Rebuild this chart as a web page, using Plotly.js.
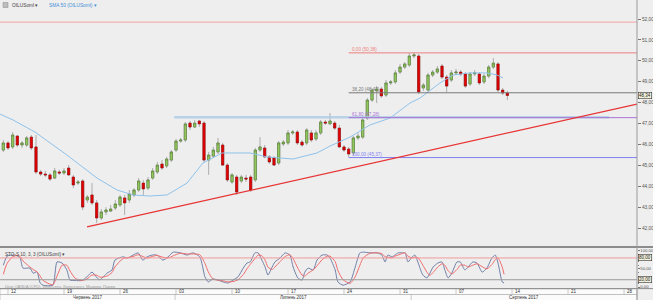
<!DOCTYPE html>
<html><head><meta charset="utf-8">
<script src="https://cdn.plot.ly/plotly-3.0.1.min.js"></script>
<style>html,body{margin:0;padding:0;background:#efefef;}#chart{width:653px;height:300px;}</style>
</head><body><div id="chart"></div>
<script>
// ---------------- DATA ----------------
const openP = [45.73,46.07,45.88,46.40,45.97,45.97,46.35,45.88,44.68,44.58,
44.54,44.39,44.68,44.63,44.87,44.44,44.15,44.25,43.34,43.58,
43.20,42.48,42.77,42.81,42.96,43.10,43.44,43.34,43.58,43.82,
44.15,43.91,44.39,44.68,45.06,44.97,45.25,45.73,46.16,46.21,
47.02,46.83,47.12,47.02,45.25,45.44,45.64,45.97,45.01,44.20,
44.44,44.25,44.39,44.44,44.30,45.73,45.83,45.40,45.35,45.11,
46.02,46.07,46.55,46.59,46.11,46.07,46.55,46.26,46.55,47.07,
46.98,47.02,46.78,45.88,45.78,45.59,46.31,46.35,47.26,48.12,
48.56,48.65,48.36,48.94,48.99,49.46,49.70,49.80,50.23,50.23,
48.70,48.60,49.32,49.46,49.75,49.22,49.08,49.42,49.46,49.37,
48.89,49.37,49.37,48.99,49.27,49.70,49.85,48.60,48.46];
const closeP = [46.07,45.83,46.45,45.97,46.07,46.31,45.83,44.68,44.58,44.54,
44.34,44.73,44.63,44.73,44.54,44.06,44.20,43.00,43.48,43.20,
42.48,42.77,42.86,42.91,43.15,43.48,43.20,43.63,43.82,44.25,
43.87,44.30,44.73,45.01,44.87,45.30,45.64,46.16,46.21,46.98,
46.83,47.02,46.98,45.25,45.49,45.73,46.07,45.01,44.30,44.54,
43.72,44.44,44.34,43.82,45.73,45.88,45.40,45.16,45.01,46.07,
46.11,46.55,46.59,46.07,45.97,46.69,46.21,46.55,47.07,47.02,
47.12,46.78,45.88,45.73,45.54,46.31,46.40,47.17,48.12,48.60,
48.65,48.32,48.94,48.99,49.42,49.70,49.85,50.23,50.28,48.51,
48.84,49.32,49.46,49.61,49.22,48.79,49.42,49.46,49.37,48.79,
49.37,49.42,48.94,49.27,49.70,49.89,48.60,48.46,48.34];
const highP = [46.21,46.16,46.59,46.45,46.16,46.40,46.45,46.45,44.78,44.73,
44.63,44.87,44.78,44.87,45.01,44.54,44.30,44.34,43.58,44.15,
43.34,42.91,43.00,43.10,43.34,43.58,43.58,43.82,43.91,44.39,
44.30,44.44,44.87,45.16,45.25,45.40,45.73,46.26,46.31,47.07,
47.12,47.17,47.17,47.12,45.64,45.88,46.31,46.07,45.11,44.63,
44.54,44.54,44.54,44.54,45.83,46.35,45.97,45.49,45.44,46.16,
46.21,46.69,46.69,46.69,46.21,46.78,46.69,46.69,47.17,47.17,
47.50,47.12,46.93,45.97,45.88,46.40,46.55,47.26,48.22,48.70,
48.79,48.75,49.08,49.08,49.56,49.85,49.94,50.37,50.42,50.33,
48.94,49.42,49.56,49.75,49.85,49.32,49.56,49.61,49.56,49.46,
49.46,49.56,49.46,49.37,49.80,50.13,49.94,48.70,48.56];
const lowP = [45.64,45.73,45.78,45.88,45.83,45.88,45.73,44.58,44.49,44.44,
44.25,44.34,44.54,44.54,44.49,43.91,44.06,42.86,43.20,43.10,
42.24,42.38,42.62,42.77,42.86,43.00,42.62,43.20,43.48,43.72,
43.58,43.82,44.30,44.58,44.78,44.87,45.16,45.64,46.07,46.11,
46.69,46.78,46.83,45.16,44.54,45.35,45.54,44.97,44.20,44.11,
43.58,44.15,44.20,43.72,44.20,45.64,45.35,45.06,44.97,45.01,
45.92,45.97,46.45,45.97,45.88,45.97,46.11,46.16,46.45,46.93,
46.93,46.69,45.83,45.64,45.40,45.49,46.21,46.26,47.17,48.03,
47.98,48.22,48.27,48.84,48.89,49.37,49.61,49.70,50.13,48.41,
48.56,48.51,49.22,49.37,49.13,48.51,48.99,49.32,49.27,48.70,
48.79,49.27,48.84,48.89,49.17,49.61,48.51,48.36,48.12];

// SMA 50 line, vertices (bar number, price)
const smaBar = [-0.71,2.07,6.79,13.64,20.07,24.36,27.79,31.43,35.07,39.35,42.78,46.86,52.86,56.5,62.07,67.21,70.0,74.29,78.57,82.86,87.14,89.29,93.57,96.36,100.0,103.64,105.79,107.07];
const smaVal = [47.45,47.17,46.59,45.49,44.39,43.82,43.58,43.53,43.58,44.15,45.11,45.59,45.59,45.40,45.30,45.59,45.92,46.35,46.93,47.26,47.98,48.22,48.94,49.32,49.42,49.42,49.32,49.18];

// Stochastic (bar number, %K, %D)
const stochBar = [0,0.8,1.9,2.9,3.6,4.2,5.7,6.4,7.2,7.9,8.5,10.6,11.5,12.6,13.6,14.3,15.4,16.9,17.9,19.0,20.1,20.7,22.2,23.3,23.9,25.6,26.7,27.8,28.9,29.9,30.8,31.9,32.9,34.2,35.3,36.4,37.9,39.4,40.6,42.1,43.2,43.9,44.9,46.0,47.1,48.1,49.2,50.3,51.4,52.2,52.9,53.9,54.6,55.4,56.1,56.7,57.6,58.2,59.3,60.4,61.4,62.1,63.1,64.0,64.6,65.3,66.4,67.2,68.3,69.4,70.0,71.1,71.7,72.8,74.3,75.4,76.4,77.1,78.6,80.1,81.1,81.8,82.4,83.3,83.9,84.6,85.4,86.1,86.7,87.6,88.2,88.9,89.9,90.8,91.4,92.1,93.1,94.0,94.6,95.3,96.1,97.2,97.9,98.9,99.6,100.6,101.5,102.6,103.6,104.7,105.4,106.0,106.9,107.3];
const stochK = [60,85,88,86,80,52,52,38,42,11,5,5,69,66,47,19,18,18,28,41,25,20,38,47,74,83,80,88,94,74,83,88,88,74,83,96,94,88,94,83,28,14,22,19,14,11,19,28,52,66,69,94,94,74,55,33,55,69,80,94,88,55,25,19,41,52,47,74,88,88,80,47,14,5,14,55,94,96,94,94,88,69,88,83,88,94,94,94,69,83,88,66,33,25,38,55,66,69,47,25,38,69,69,47,55,69,66,41,52,80,88,66,14,11];
const stochD = [35,65,82,87,84,72,55,48,42,30,18,6,30,60,60,44,24,18,22,33,32,27,30,40,55,78,81,84,89,84,80,84,87,82,80,86,93,91,91,89,65,42,22,19,17,14,15,20,34,50,62,78,88,86,74,55,48,55,70,84,89,78,52,33,30,38,47,58,75,85,85,70,45,20,10,28,60,80,93,94,92,83,82,80,85,88,92,94,85,80,82,80,60,40,32,40,55,64,60,45,36,48,60,60,55,60,64,56,50,62,75,80,55,35];

// Axis labels
const weekLabels = ["12","19","26","03","10","17","24","31","07","14","21","28"];
const weekBars = [1,13,25,37,49,61,73,85,97,109,121,133];
const monthLabels = ["Червень 2017","Липень 2017","Серпень 2017"];
const monthStartBars = [-0.714,36.8,87.4];
const priceTicks = [42,43,44,45,46,47,48,49,50,51,52];
const stochTicks = [0,50,100];
const lastPrice = 48.34;

// Drawn levels
const fibLevels = ["0,00","38,20","61,80","100,00"];
const fibPrices = [50.38,48.47,47.28,45.37];
const fibStartBar = 74;
const resistLevel = 51.85;
const zoneLevel = 47.30, zoneFrom = 36.6, zoneTo = 129.8;
const trendFrom = [17.93,42.05], trendTo = [135.78,47.93];

// ---------------- CHART ----------------
const X0 = -0.714, X1 = 135.78;
const bars = openP.map((_, i) => i);
const bodyHigh = openP.map((o, i) => Math.max(o, closeP[i]));
const bodyLow = openP.map((o, i) => Math.min(o, closeP[i]));
const py = p => 1 - p / 300;          // pixel row -> paper y
const FONT = 'Liberation Sans, Arial, sans-serif';
const fibColors = ['#ee7f7f','#7a7a7a','#a874d4','#7f7ff2'];

const traces = [
  {type:'candlestick', x:bars, open:openP, high:highP, low:lowP, close:closeP,
   increasing:{line:{color:'#9c9c9c',width:0.8},fillcolor:'#9c9c9c'},
   decreasing:{line:{color:'#9c9c9c',width:0.8},fillcolor:'#9c9c9c'},
   whiskerwidth:0, hoverinfo:'skip', showlegend:false},
  {type:'candlestick', x:bars, open:openP, high:bodyHigh, low:bodyLow, close:closeP,
   increasing:{line:{color:'#4f7a2c',width:0.5},fillcolor:'#93c85e'},
   decreasing:{line:{color:'#a30000',width:0.5},fillcolor:'#e30000'},
   whiskerwidth:0, hoverinfo:'skip', showlegend:false},
  {type:'scatter', mode:'lines', x:smaBar, y:smaVal, line:{color:'#8fc2ea',width:1}, hoverinfo:'skip', showlegend:false},
  {type:'scatter', mode:'lines', x:stochBar, y:stochK, yaxis:'y2', line:{color:'#7180a8',width:1,shape:'spline',smoothing:0.6}, hoverinfo:'skip', showlegend:false},
  {type:'scatter', mode:'lines', x:stochBar, y:stochD, yaxis:'y2', line:{color:'#f26c6c',width:1,shape:'spline',smoothing:0.6}, hoverinfo:'skip', showlegend:false}
];

const shapes = [];
const annotations = [];
// resistance line at top
shapes.push({type:'line', xref:'paper', yref:'y', x0:0, x1:1, y0:resistLevel, y1:resistLevel, line:{color:'#f2a3a3',width:1}});
// light blue zone
shapes.push({type:'line', xref:'x', yref:'y', x0:zoneFrom, x1:zoneTo, y0:zoneLevel, y1:zoneLevel, line:{color:'rgba(176,204,230,0.85)',width:2.5}});
// fib lines + labels
fibPrices.forEach((p, k) => {
  shapes.push({type:'line', xref:'x', yref:'y', x0:fibStartBar, x1:X1, y0:p, y1:p, line:{color:fibColors[k],width:1}});
  annotations.push({xref:'x', yref:'y', x:fibStartBar + 0.3, y:p, xanchor:'left', yanchor:'bottom', yshift:-1,
    text: fibLevels[k] + ' (' + p.toFixed(2).replace('.', ',') + ')', showarrow:false,
    font:{family:FONT, size:4.6, color:fibColors[k]}});
});
// trendline
shapes.push({type:'line', xref:'x', yref:'y', x0:trendFrom[0], y0:trendFrom[1], x1:trendTo[0], y1:trendTo[1], line:{color:'#e83434',width:1.3}});
// stochastic levels
shapes.push({type:'line', xref:'paper', yref:'y2', x0:0, x1:1, y0:80, y1:80, line:{color:'#f29a9a',width:1}});
shapes.push({type:'line', xref:'paper', yref:'y2', x0:0, x1:1, y0:20, y1:20, line:{color:'#9a9a9a',width:1}});
// panel divider
shapes.push({type:'line', xref:'paper', yref:'paper', x0:0, x1:653/637, y0:py(247), y1:py(247), line:{color:'#8c8c8c',width:2}});
// date strips
shapes.push({type:'rect', xref:'paper', yref:'paper', x0:0, x1:1, y0:py(294.5), y1:py(288.8), fillcolor:'#fbfbfb', line:{color:'#a8a8a8',width:0.6}});
shapes.push({type:'rect', xref:'paper', yref:'paper', x0:0, x1:1, y0:py(300.5), y1:py(294.5), fillcolor:'#fbfbfb', line:{color:'#a8a8a8',width:0.6}});
shapes.push({type:'line', xref:'paper', yref:'paper', x0:0, x1:653/637, y0:py(288.6), y1:py(288.6), line:{color:'#8c8c8c',width:1}});
// right axis line
shapes.push({type:'line', xref:'paper', yref:'paper', x0:1, x1:1, y0:0, y1:1, line:{color:'#9a9a9a',width:1}});
// top icon
shapes.push({type:'rect', xref:'paper', yref:'paper', x0:3/637, x1:8/637, y0:py(7.5), y1:py(2.5), fillcolor:'#bdbdbd', line:{color:'#8a8a8a',width:0.5}});

weekBars.forEach((b, k) => {
  shapes.push({type:'line', xref:'x', yref:'paper', x0:b, x1:b, y0:py(294.5), y1:py(288.8), line:{color:'#a8a8a8',width:0.6}});
  annotations.push({xref:'x', yref:'paper', x:b, y:py(291.7), xanchor:'left', yanchor:'middle', xshift:1,
    text:weekLabels[k], showarrow:false, font:{family:FONT, size:4.5, color:'#333'}});
});
monthLabels.forEach((m, k) => {
  const a = monthStartBars[k], b = k + 1 < monthStartBars.length ? monthStartBars[k+1] : X1;
  if (k > 0) shapes.push({type:'line', xref:'x', yref:'paper', x0:a, x1:a, y0:0, y1:py(294.5), line:{color:'#a8a8a8',width:0.6}});
  annotations.push({xref:'x', yref:'paper', x:(a + b) / 2, y:py(297.3), xanchor:'center', yanchor:'middle',
    text:m, showarrow:false, font:{family:FONT, size:4.5, color:'#333'}});
});

// price boxes on axis
const boxAnn = (yref, y, text) => ({xref:'paper', yref:yref, x:1, y:y, xanchor:'left', yanchor:'middle', xshift:0.5,
  text:text, showarrow:false, bgcolor:'#f4f2dc', bordercolor:'#333', borderwidth:0.6, borderpad:0.5,
  font:{family:FONT, size:4.5, color:'#222'}});
annotations.push(boxAnn('y', lastPrice, lastPrice.toFixed(2).replace('.', ',')));
annotations.push(boxAnn('y2', 80, '80,00'));
annotations.push(boxAnn('y2', 20, '20,00'));

// header texts
annotations.push({xref:'paper', yref:'paper', x:10/637, y:py(5), xanchor:'left', yanchor:'middle', text:'OILUSoml ▾', showarrow:false, font:{family:FONT, size:4.8, color:'#444'}});
annotations.push({xref:'paper', yref:'paper', x:47/637, y:py(5), xanchor:'left', yanchor:'middle', text:'SMA 50 (OILUSoml) ▾', showarrow:false, font:{family:FONT, size:4.8, color:'#3f8fd8'}});
annotations.push({xref:'paper', yref:'paper', x:3/637, y:py(254), xanchor:'left', yanchor:'middle', text:'STO-S 10, 3, 3 (OILUSoml) ▾', showarrow:false, font:{family:FONT, size:4.6, color:'#444'}});
annotations.push({xref:'paper', yref:'paper', x:3/637, y:py(286.5), xanchor:'left', yanchor:'middle', text:'Ціни OANDA (CFD), Брюссель, Копенгаген, Мадрид, Париж', showarrow:false, font:{family:FONT, size:4, color:'#a0a0a0'}});

const layout = {
  width:653, height:300, margin:{l:0,r:16,t:0,b:0},
  paper_bgcolor:'#efefef', plot_bgcolor:'#eeeeee',
  separators:', ', showlegend:false,
  xaxis:{range:[X0,X1], showticklabels:false, showgrid:false, zeroline:false, ticks:'', rangeslider:{visible:false}, fixedrange:true, anchor:'y2'},
  yaxis:{domain:[0.18,1], range:[41.139,52.909], side:'right', tickvals:priceTicks, tickformat:'.2f',
    ticks:'outside', ticklen:3, tickcolor:'#777', tickfont:{family:FONT,size:4.8,color:'#555'},
    showgrid:false, zeroline:false, showline:false},
  yaxis2:{domain:[11/300,52/300], range:[-5.5,107.4], side:'right', tickvals:stochTicks, tickformat:'.2f',
    ticks:'outside', ticklen:1.5, tickcolor:'#777', tickfont:{family:FONT,size:4.2,color:'#555'},
    minor:{dtick:10, ticks:'outside', ticklen:1.2, tickcolor:'#888'},
    showgrid:false, zeroline:false, showline:false},
  shapes:shapes, annotations:annotations
};
Plotly.newPlot('chart', traces, layout, {staticPlot:true, displayModeBar:false});
</script></body></html>
